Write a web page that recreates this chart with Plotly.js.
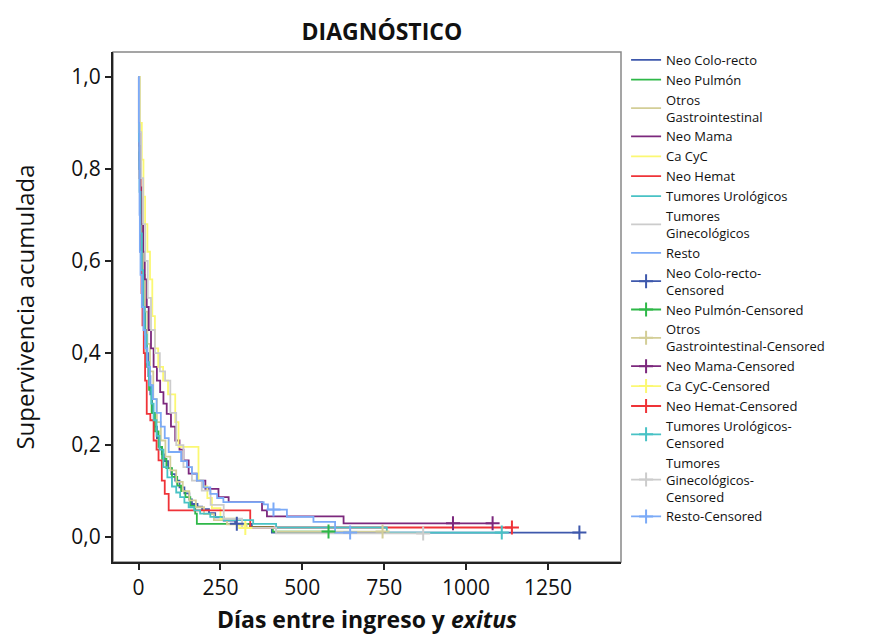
<!DOCTYPE html>
<html>
<head>
<meta charset="utf-8">
<script src="https://cdn.plot.ly/plotly-3.0.1.min.js"></script>
<style>html,body{margin:0;padding:0;background:#fff;}#chart{width:882px;height:639px;}</style>
</head>
<body>
<div id="chart"></div>
<script>
// ---- Data (Kaplan-Meier step curves) ----
const groupNames = ['Neo Colo-recto', 'Neo Pulmón', 'Otros<br>Gastrointestinal', 'Neo Mama', 'Ca CyC',
  'Neo Hemat', 'Tumores Urológicos', 'Tumores<br>Ginecológicos', 'Resto'];
const censoredNames = ['Neo Colo-recto-<br>Censored', 'Neo Pulmón-Censored', 'Otros<br>Gastrointestinal-Censored',
  'Neo Mama-Censored', 'Ca CyC-Censored', 'Neo Hemat-Censored', 'Tumores Urológicos-<br>Censored',
  'Tumores<br>Ginecológicos-<br>Censored', 'Resto-Censored'];
const groupColors = ['#3E58AC', '#2EB848', '#D3CE97', '#7C287D', '#FBF873', '#EF3338', '#48C2C5', '#CCCCCC', '#7BAAF7'];

const coloRectoDays = [0, 2, 5, 8, 12, 16, 20, 25, 30, 36, 41, 48, 56, 64, 71, 80, 90, 100, 112, 125, 140, 155, 163, 180, 194, 215, 234, 260, 295, 346, 407, 1346];
const coloRectoSurv = [1, 0.82, 0.72, 0.64, 0.57, 0.5, 0.45, 0.40, 0.35, 0.31, 0.27, 0.24, 0.215, 0.195, 0.18, 0.165, 0.15, 0.137, 0.123, 0.108, 0.095, 0.082, 0.072, 0.066, 0.061, 0.052, 0.043, 0.036, 0.029, 0.022, 0.010, 0.010];
const pulmonDays = [0, 2, 5, 9, 14, 19, 25, 32, 40, 50, 61, 72, 85, 102, 118, 130, 143, 158, 173, 178, 340, 410, 595];
const pulmonSurv = [1, 0.8, 0.68, 0.58, 0.5, 0.43, 0.37, 0.32, 0.27, 0.23, 0.196, 0.17, 0.15, 0.131, 0.112, 0.1, 0.087, 0.068, 0.051, 0.029, 0.022, 0.012, 0.012];
const otrosGIDays = [0, 2, 5, 9, 14, 20, 27, 35, 45, 56, 68, 82, 97, 115, 135, 155, 175, 200, 230, 270, 330, 420, 745];
const otrosGISurv = [1, 0.84, 0.74, 0.65, 0.57, 0.49, 0.42, 0.36, 0.3, 0.25, 0.21, 0.175, 0.145, 0.12, 0.1, 0.08, 0.065, 0.05, 0.037, 0.028, 0.02, 0.012, 0.012];
const mamaDays = [0, 2, 5, 9, 14, 19, 25, 31, 38, 46, 56, 66, 76, 86, 99, 112, 125, 137, 153, 178, 204, 244, 275, 377, 392, 626, 1081];
const mamaSurv = [1, 0.85, 0.76, 0.68, 0.62, 0.56, 0.5, 0.45, 0.41, 0.37, 0.34, 0.315, 0.29, 0.268, 0.24, 0.21, 0.19, 0.167, 0.138, 0.123, 0.105, 0.087, 0.076, 0.058, 0.045, 0.03, 0.03];
const caCyCDays = [0, 4, 10, 15, 20, 27, 35, 42, 50, 60, 75, 90, 112, 122, 183, 197, 210, 224, 250, 300, 326];
const caCyCSurv = [1, 0.9, 0.82, 0.74, 0.68, 0.62, 0.56, 0.48, 0.41, 0.37, 0.34, 0.31, 0.25, 0.196, 0.123, 0.11, 0.085, 0.063, 0.04, 0.025, 0.02];
const hematDays = [0, 1, 3, 6, 9, 12, 16, 20, 25, 36, 46, 55, 61, 71, 80, 92, 341, 1140];
const hematSurv = [1, 0.88, 0.78, 0.62, 0.53, 0.46, 0.4, 0.34, 0.268, 0.254, 0.21, 0.19, 0.167, 0.123, 0.094, 0.058, 0.021, 0.021];
const urologDays = [0, 1, 3, 6, 10, 14, 19, 25, 32, 39, 46, 55, 64, 76, 88, 102, 115, 127, 140, 153, 170, 188, 219, 260, 350, 420, 758, 1109];
const urologSurv = [1, 0.86, 0.75, 0.66, 0.58, 0.5, 0.44, 0.38, 0.33, 0.29, 0.254, 0.22, 0.19, 0.152, 0.13, 0.11, 0.097, 0.087, 0.075, 0.065, 0.058, 0.051, 0.044, 0.037, 0.029, 0.021, 0.01, 0.01];
const ginecoDays = [0, 3, 8, 14, 20, 28, 38, 50, 65, 81, 97, 115, 137, 163, 193, 220, 260, 316, 420, 869];
const ginecoSurv = [1, 0.88, 0.78, 0.68, 0.6, 0.52, 0.45, 0.4, 0.36, 0.34, 0.27, 0.2, 0.152, 0.123, 0.101, 0.07, 0.04, 0.02, 0.008, 0.008];
const restoDays = [0, 1, 2, 3, 4, 6, 10, 15, 20, 27, 35, 44, 55, 68, 80, 92, 130, 148, 163, 178, 198, 219, 240, 259, 382, 395, 453, 534, 600, 646];
const restoSurv = [1, 0.9, 0.8, 0.7, 0.62, 0.57, 0.5, 0.45, 0.41, 0.37, 0.33, 0.3, 0.27, 0.24, 0.215, 0.185, 0.165, 0.152, 0.138, 0.123, 0.108, 0.094, 0.085, 0.076, 0.071, 0.06, 0.044, 0.033, 0.01, 0.01];

const censorDays = [[300, 1346], [580], [745], [960, 1081], [326], [1140], [1109], [869], [412, 646]];
const censorSurv = [[0.029, 0.010], [0.012], [0.012], [0.03, 0.03], [0.02], [0.021], [0.01], [0.008], [0.06, 0.01]];

const xTickVals = [0, 250, 500, 750, 1000, 1250];
const yTickVals = [0, 0.2, 0.4, 0.6, 0.8, 1.0];

// ---- Build traces ----
const curveDays = [coloRectoDays, pulmonDays, otrosGIDays, mamaDays, caCyCDays, hematDays, urologDays, ginecoDays, restoDays];
const curveSurv = [coloRectoSurv, pulmonSurv, otrosGISurv, mamaSurv, caCyCSurv, hematSurv, urologSurv, ginecoSurv, restoSurv];
const FONT = '"Open Sans", "Noto Sans", sans-serif';

const traces = [];
curveDays.forEach((d, i) => {
  traces.push({
    x: d, y: curveSurv[i], type: 'scatter', mode: 'lines', name: groupNames[i],
    line: {shape: 'hv', color: groupColors[i], width: 1.8}, hoverinfo: 'x+y+name'
  });
});
censorDays.forEach((d, i) => {
  const xs = [], ys = [];
  d.forEach((v, k) => { if (k > 0) { xs.push(null); ys.push(null); } xs.push(v); ys.push(censorSurv[i][k]); });
  traces.push({
    x: xs, y: ys, type: 'scatter', mode: 'lines+markers', name: censoredNames[i], connectgaps: false,
    line: {color: groupColors[i], width: 1.8},
    marker: {symbol: 'cross-thin', size: 10, color: groupColors[i], line: {color: groupColors[i], width: 2}}
  });
});

const layout = {
  width: 882, height: 639,
  margin: {l: 113, r: 261, t: 52, b: 77},
  paper_bgcolor: '#fff', plot_bgcolor: '#fff',
  separators: ',.',
  font: {family: FONT, color: '#111'},
  title: {text: '<b>DIAGNÓSTICO</b>', x: 0.433, xanchor: 'center', y: 0.95, yanchor: 'middle',
          font: {family: FONT, size: 23, color: '#111'}},
  xaxis: {
    range: [-78, 1473], tickvals: xTickVals, ticktext: xTickVals.map(String),
    showgrid: false, zeroline: false, showline: true, linecolor: '#222', linewidth: 2,
    ticks: 'outside', ticklen: 6, tickwidth: 2, tickcolor: '#222',
    tickfont: {family: FONT, size: 21, color: '#111'},
    title: {text: '<b>Días entre ingreso y <i>exitus</i></b>', font: {family: FONT, size: 23, color: '#111'}, standoff: 12}
  },
  yaxis: {
    range: [-0.054, 1.054], tickvals: yTickVals, tickformat: '.1f',
    showgrid: false, zeroline: false, showline: true, linecolor: '#222', linewidth: 2,
    ticks: 'outside', ticklen: 6, tickwidth: 2, tickcolor: '#222',
    tickfont: {family: FONT, size: 21, color: '#111'},
    title: {text: 'Supervivencia acumulada', font: {family: FONT, size: 24, color: '#111'}, standoff: 30}
  },
  shapes: [{type: 'rect', xref: 'paper', yref: 'paper', x0: 0, x1: 1, y0: 0, y1: 1,
            line: {color: '#888', width: 1.5}, layer: 'below'}],
  legend: {x: 1.01, xanchor: 'left', y: 1.014, yanchor: 'top', bgcolor: 'rgba(0,0,0,0)', maxheight: 620,
           font: {family: FONT, size: 13, color: '#111'}, traceorder: 'normal', itemwidth: 30},
  showlegend: true
};

Plotly.newPlot('chart', traces, layout, {displayModeBar: false, staticPlot: true});
</script>
</body>
</html>
